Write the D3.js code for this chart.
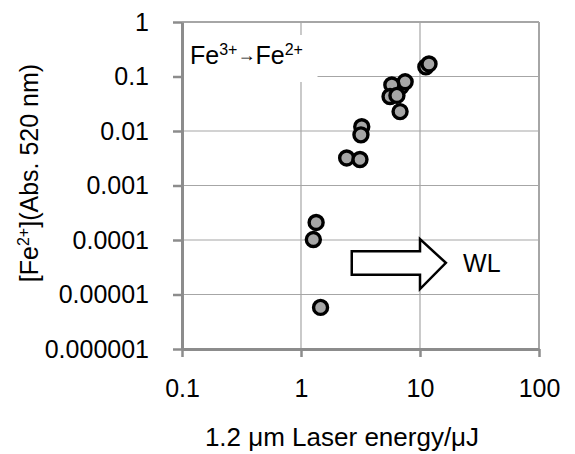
<!DOCTYPE html>
<html>
<head>
<meta charset="utf-8">
<script src="https://cdn.jsdelivr.net/npm/d3@7"></script>
<style>
  body { margin: 0; background: #fff; }
  text { font-family: "Liberation Sans", Arial, sans-serif; fill: #000; }
</style>
</head>
<body>
<div id="chart"></div>
<script>
// Laser energy (uJ) and [Fe2+]
const energy = [11.2, 11.9, 6.9, 7.5, 5.8, 5.6, 6.4, 6.8, 3.24, 3.19, 2.42, 3.13, 1.34, 1.27, 1.46];
const fe2 = [0.150, 0.170, 0.065, 0.080, 0.070, 0.043, 0.045, 0.0227, 0.0120, 0.0085, 0.0032, 0.0030, 0.00021, 0.000102, 0.0000058];

const xTicks = [0.1, 1, 10, 100];
const yTicks = [0.000001, 0.00001, 0.0001, 0.001, 0.01, 0.1, 1];
const yTickLabels = ['0.000001', '0.00001', '0.0001', '0.001', '0.01', '0.1', '1'];

const config = {
  containerWidth: 575,
  containerHeight: 454,
  margin: {top: 22, right: 36, bottom: 105, left: 182}
};

const width = config.containerWidth - config.margin.left - config.margin.right;
const height = config.containerHeight - config.margin.top - config.margin.bottom;

const xScale = d3.scaleLog().domain([0.1, 100]).range([0, width]);
const yScale = d3.scaleLog().domain([0.000001, 1]).range([height, 0]);

const svg = d3.select('#chart').append('svg')
    .attr('width', config.containerWidth)
    .attr('height', config.containerHeight);

const chart = svg.append('g')
    .attr('transform', `translate(${config.margin.left},${config.margin.top})`);

// gridlines
chart.selectAll('.hgrid')
    .data(yTicks.slice(1))
    .join('line')
    .attr('class', 'hgrid')
    .attr('x1', 0).attr('x2', width)
    .attr('y1', d => yScale(d)).attr('y2', d => yScale(d))
    .attr('stroke', '#a6a6a6')
    .attr('stroke-width', d => d === 1 ? 2 : 1.2);

chart.selectAll('.vgrid')
    .data(xTicks.slice(1))
    .join('line')
    .attr('class', 'vgrid')
    .attr('y1', 0).attr('y2', height)
    .attr('x1', d => xScale(d)).attr('x2', d => xScale(d))
    .attr('stroke', '#a6a6a6')
    .attr('stroke-width', d => d === 100 ? 2 : 1.2);

// white label box over the grid
chart.append('rect')
    .attr('x', 1.5).attr('y', 13)
    .attr('width', 134).attr('height', 47)
    .attr('fill', '#fff');

const lab = chart.append('text')
    .attr('x', 8).attr('y', 42)
    .attr('font-size', 25);
lab.append('tspan').text('Fe');
lab.append('tspan').attr('font-size', 16).attr('dy', -9).text('3+');
lab.append('tspan').attr('font-size', 18).attr('dy', 6).text('\u2192');
lab.append('tspan').attr('dy', 3).text('Fe');
lab.append('tspan').attr('font-size', 16).attr('dy', -9).text('2+');

// axes
const xAxis = d3.axisBottom(xScale)
    .tickValues(xTicks)
    .tickFormat(d3.format('~g'))
    .tickSizeInner(8)
    .tickSizeOuter(0)
    .tickPadding(22);

const yAxis = d3.axisLeft(yScale)
    .tickValues(yTicks)
    .tickFormat((d, i) => yTickLabels[i])
    .tickSizeInner(9)
    .tickSizeOuter(0)
    .tickPadding(24);

const xAxisG = chart.append('g')
    .attr('transform', `translate(0,${height})`)
    .call(xAxis);

const yAxisG = chart.append('g').call(yAxis);

[xAxisG, yAxisG].forEach(g => {
  g.select('.domain').attr('stroke', '#8c8c8c').attr('stroke-width', 3);
  g.selectAll('.tick line').attr('stroke', '#8c8c8c').attr('stroke-width', 2.5);
  g.selectAll('.tick text')
      .attr('font-size', 25)
      .attr('font-family', '"Liberation Sans", Arial, sans-serif')
      .attr('fill', '#000');
});

// arrow annotation
const arrowPts = [
  [2.67, 6.2e-5], [10, 6.2e-5], [10, 1.04e-4], [16.5, 3.8e-5],
  [10, 1.26e-5], [10, 2.3e-5], [2.67, 2.3e-5]
];
chart.append('path')
    .attr('d', d3.line().x(d => xScale(d[0])).y(d => yScale(d[1]))(arrowPts) + 'Z')
    .attr('fill', '#fff')
    .attr('stroke', '#000')
    .attr('stroke-width', 2.5);

chart.append('text')
    .attr('x', xScale(23)).attr('y', yScale(3.8e-5))
    .attr('dy', '0.35em')
    .attr('font-size', 25)
    .text('WL');

// points
chart.selectAll('.pt')
    .data(energy.map((e, i) => ({x: e, y: fe2[i]})))
    .join('circle')
    .attr('class', 'pt')
    .attr('cx', d => xScale(d.x))
    .attr('cy', d => yScale(d.y))
    .attr('r', 7)
    .attr('fill', '#a6a6a6')
    .attr('stroke', '#000')
    .attr('stroke-width', 3.4);

// axis titles
const yt = svg.append('text')
    .attr('transform', 'translate(38,173) rotate(-90)')
    .attr('text-anchor', 'middle')
    .attr('font-size', 25);
yt.append('tspan').text('[Fe');
yt.append('tspan').attr('font-size', 16).attr('dy', -9).text('2+');
yt.append('tspan').attr('dy', 9).text('](Abs. 520 nm)');

svg.append('text')
    .attr('x', 342).attr('y', 446)
    .attr('text-anchor', 'middle')
    .attr('font-size', 26)
    .text('1.2 \u03bcm Laser energy/\u03bcJ');
</script>
</body>
</html>
